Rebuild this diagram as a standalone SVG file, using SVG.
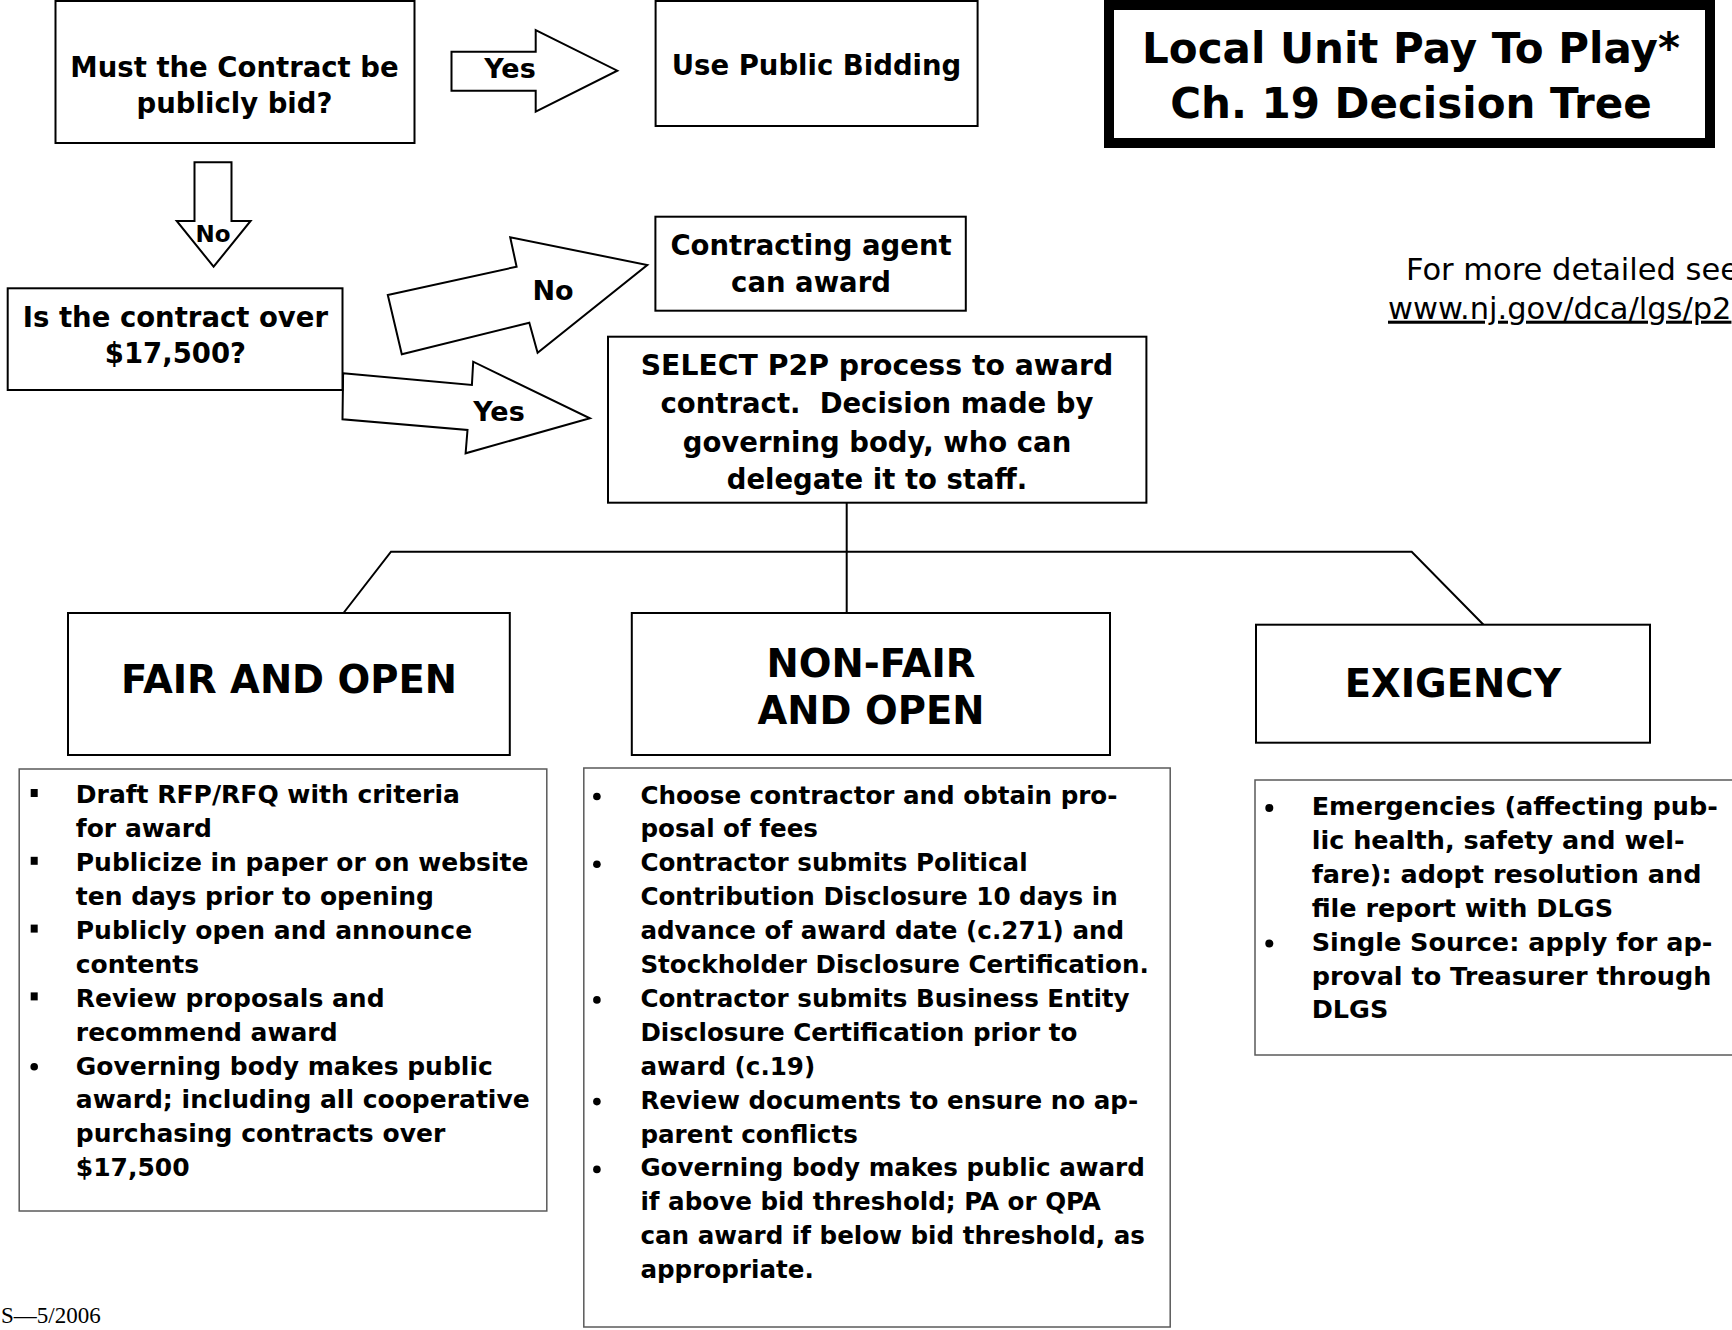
<svg xmlns="http://www.w3.org/2000/svg" width="1732" height="1330" viewBox="0 0 1732 1330">
<style>
.box{fill:#fff;stroke:#000;stroke-width:2}
.lst{fill:#fff;stroke:#5a5a5a;stroke-width:1.5}
.arr{fill:#fff;stroke:#000;stroke-width:2;stroke-linejoin:miter}
.ln{fill:none;stroke:#000;stroke-width:2}
.t{font-family:"DejaVu Sans","Liberation Sans",sans-serif;font-weight:bold;fill:#000;text-anchor:middle}
.n{font-size:27.5px}
.big{font-size:38.5px}
.ttl{font-size:42px}
.lb{font-size:27px}
.li{font-family:"DejaVu Sans","Liberation Sans",sans-serif;font-weight:bold;fill:#000}
.reg{font-family:"DejaVu Sans","Liberation Sans",sans-serif;font-size:30.5px;fill:#000}
</style>
<rect width="1732" height="1330" fill="#fff"/>

<g id="connectors">
  <g id="arrow-yes-top">
    <polygon class="arr" points="451.5,51.7 535.7,51.7 535.7,30 617.3,70.7 535.7,111.7 535.7,90.7 451.5,90.7"/>
    <text class="t lb" x="510" y="78">Yes</text>
  </g>
  <g id="arrow-no-down">
    <polygon class="arr" points="194.5,162.3 231.5,162.3 231.5,221 250.6,221 213.6,266.7 176.7,221 194.5,221"/>
    <text class="t" style="font-size:23px" x="213" y="241.7">No</text>
  </g>
  <g id="arrow-no-diag">
    <polygon class="arr" points="387.8,295 516.6,266.7 510.2,237.3 647.3,265 537.6,352.7 529.3,322.7 401.8,354.3"/>
    <text class="t lb" x="553" y="300">No</text>
  </g>
  <g id="arrow-yes-low">
    <polygon class="arr" points="343.1,373.3 471.9,385 473.2,361.7 589.9,418.3 465.6,453.3 467.5,430 342.5,419.3"/>
    <text class="t lb" x="499" y="421">Yes</text>
  </g>
  <g id="tree-lines">
    <line class="ln" x1="846.7" y1="502.7" x2="846.7" y2="613"/>
    <polyline class="ln" points="343.5,613 391,551.7 1411.7,551.7 1483.5,624.7"/>
  </g>
</g>

<g id="title">
  <rect x="1109" y="5" width="601" height="138" fill="#fff" stroke="#000" stroke-width="10"/>
  <text class="t ttl" x="1411" y="63">Local Unit Pay To Play*</text>
  <text class="t ttl" x="1411" y="118">Ch. 19 Decision Tree</text>
</g>

<g id="note">
  <text class="reg" x="1406" y="280">For more detailed see</text>
  <text class="reg" x="1388" y="318.7" text-decoration="underline">www.nj.gov/dca/lgs/p2</text>
</g>

<g id="node-must-bid">
  <rect class="box" x="55.5" y="1" width="359" height="142"/>
  <text class="t n" x="234.5" y="77">Must the Contract be</text>
  <text class="t n" x="234.5" y="113">publicly bid?</text>
</g>

<g id="node-public-bidding">
  <rect class="box" x="655.6" y="1" width="322" height="125"/>
  <text class="t n" x="816.5" y="75">Use Public Bidding</text>
</g>

<g id="node-over-17500">
  <rect class="box" x="7.7" y="288.3" width="334.8" height="101.7"/>
  <text class="t n" x="175.4" y="326.7">Is the contract over</text>
  <text class="t n" x="175.4" y="363.3">$17,500?</text>
</g>

<g id="node-contracting-agent">
  <rect class="box" x="655.4" y="216.7" width="310.4" height="94"/>
  <text class="t n" x="811" y="255">Contracting agent</text>
  <text class="t n" x="811" y="291.7">can award</text>
</g>

<g id="node-select">
  <rect class="box" x="608" y="336.7" width="538.4" height="166"/>
  <text class="t" style="font-size:28.3px" x="877" y="375">SELECT P2P process to award</text>
  <text class="t n" x="877" y="413" xml:space="preserve">contract.  Decision made by</text>
  <text class="t n" x="877" y="451.5">governing body, who can</text>
  <text class="t n" x="877" y="488.5">delegate it to staff.</text>
</g>

<g id="node-fair-open">
  <rect class="box" x="68" y="613" width="441.8" height="142"/>
  <text class="t big" x="289" y="693.3">FAIR AND OPEN</text>
</g>

<g id="node-non-fair-open">
  <rect class="box" x="631.8" y="613" width="478.2" height="142"/>
  <text class="t big" x="871" y="676.5">NON-FAIR</text>
  <text class="t big" x="871" y="723.5">AND OPEN</text>
</g>

<g id="node-exigency">
  <rect class="box" x="1256" y="624.7" width="394" height="118"/>
  <text class="t big" x="1453" y="696.7">EXIGENCY</text>
</g>

<g id="list-fair-open">
  <rect class="lst" x="19.2" y="769" width="527.6" height="442"/>
  <rect x="30.7" y="789" width="7" height="8" fill="#000"/>
  <rect x="30.7" y="856.8" width="7" height="8" fill="#000"/>
  <rect x="30.7" y="924.6" width="7" height="8" fill="#000"/>
  <rect x="30.7" y="992.4" width="7" height="8" fill="#000"/>
  <circle cx="34.2" cy="1066.8" r="3.8" fill="#000"/>
  <g class="li" style="font-size:25px">
    <text x="75.8" y="803.3">Draft RFP/RFQ with criteria</text>
    <text x="75.8" y="837.2">for award</text>
    <text x="75.8" y="871.1">Publicize in paper or on website</text>
    <text x="75.8" y="905">ten days prior to opening</text>
    <text x="75.8" y="938.9">Publicly open and announce</text>
    <text x="75.8" y="972.8">contents</text>
    <text x="75.8" y="1006.7">Review proposals and</text>
    <text x="75.8" y="1040.6">recommend award</text>
    <text x="75.8" y="1074.5">Governing body makes public</text>
    <text x="75.8" y="1108.4">award; including all cooperative</text>
    <text x="75.8" y="1142.3">purchasing contracts over</text>
    <text x="75.8" y="1176.2">$17,500</text>
  </g>
</g>

<g id="list-non-fair-open">
  <rect class="lst" x="583.8" y="768" width="586.4" height="559"/>
  <circle cx="596.9" cy="796.5" r="3.8" fill="#000"/>
  <circle cx="596.9" cy="864.3" r="3.8" fill="#000"/>
  <circle cx="596.9" cy="999.9" r="3.8" fill="#000"/>
  <circle cx="596.9" cy="1101.6" r="3.8" fill="#000"/>
  <circle cx="596.9" cy="1169.4" r="3.8" fill="#000"/>
  <g class="li" style="font-size:24.6px">
    <text x="640.4" y="803.5">Choose contractor and obtain pro-</text>
    <text x="640.4" y="837.4">posal of fees</text>
    <text x="640.4" y="871.3">Contractor submits Political</text>
    <text x="640.4" y="905.2">Contribution Disclosure 10 days in</text>
    <text x="640.4" y="939.1">advance of award date (c.271) and</text>
    <text x="640.4" y="973">Stockholder Disclosure Certification.</text>
    <text x="640.4" y="1006.9">Contractor submits Business Entity</text>
    <text x="640.4" y="1040.8">Disclosure Certification prior to</text>
    <text x="640.4" y="1074.7">award (c.19)</text>
    <text x="640.4" y="1108.6">Review documents to ensure no ap-</text>
    <text x="640.4" y="1142.5">parent conflicts</text>
    <text x="640.4" y="1176.4">Governing body makes public award</text>
    <text x="640.4" y="1210.3">if above bid threshold; PA or QPA</text>
    <text x="640.4" y="1244.2">can award if below bid threshold, as</text>
    <text x="640.4" y="1278.1">appropriate.</text>
  </g>
</g>

<g id="list-exigency">
  <rect class="lst" x="1255" y="780" width="500" height="275"/>
  <circle cx="1269.3" cy="808" r="4" fill="#000"/>
  <circle cx="1269.3" cy="943.6" r="4" fill="#000"/>
  <g class="li" style="font-size:25.5px">
    <text x="1311.7" y="815">Emergencies (affecting pub-</text>
    <text x="1311.7" y="848.9">lic health, safety and wel-</text>
    <text x="1311.7" y="882.8">fare): adopt resolution and</text>
    <text x="1311.7" y="916.7">file report with DLGS</text>
    <text x="1311.7" y="950.6">Single Source: apply for ap-</text>
    <text x="1311.7" y="984.5">proval to Treasurer through</text>
    <text x="1311.7" y="1018.4">DLGS</text>
  </g>
</g>

<text x="1" y="1323.3" style="font-family:'Liberation Serif','Times New Roman',serif;font-size:23px;fill:#000">S—5/2006</text>
</svg>
